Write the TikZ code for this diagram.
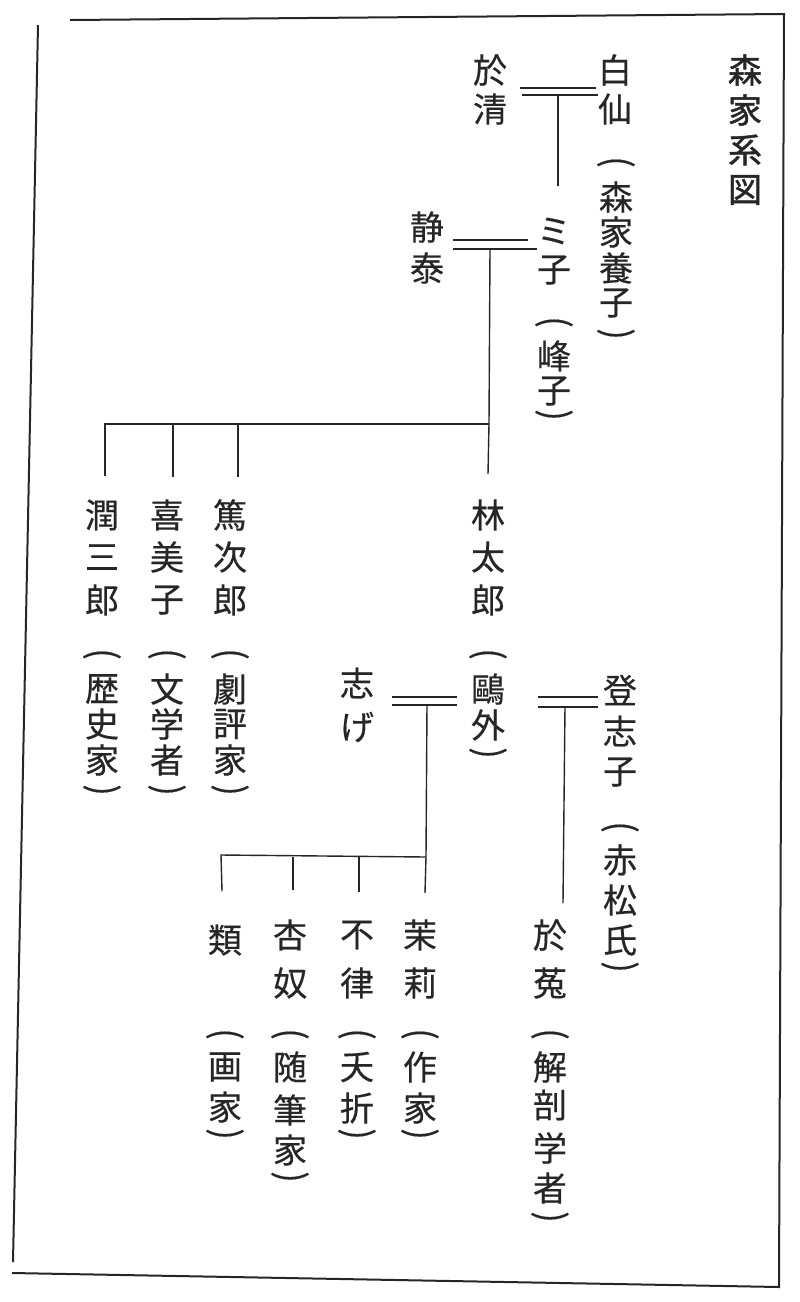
\documentclass[tikz,border=0pt]{standalone}
\usepackage{graphicx}
\usepackage{fontspec}
\setmainfont[FakeBold=0.4]{Noto Sans CJK JP}
\newfontfamily\titlefont[FakeBold=1.4]{Noto Sans CJK JP}
\definecolor{ink}{HTML}{262626}
\tikzset{
  ch/.style={inner sep=0pt, font=\fontsize{34pt}{34pt}\selectfont, text=ink},
  tch/.style={inner sep=0pt, font=\titlefont\fontsize{34pt}{34pt}\selectfont, text=ink},
  rule/.style={line width=1.4pt, draw=ink},
  frame/.style={line width=2pt, draw=ink},
}
\newcommand\vpo{\rotatebox[origin=c]{-90}{\scalebox{1}[1.12]{\fontsize{33pt}{33pt}\selectfont(}}}
\newcommand\vpc{\rotatebox[origin=c]{-90}{\scalebox{1}[1.12]{\fontsize{33pt}{33pt}\selectfont)}}}
\newcommand\vcol[4][ch]{\foreach \vy/\vch [count=\i] in {#4} {\node[#1] (#2-\i) at (#3,\vy) {\vch};}}
\begin{document}
\begin{tikzpicture}[x=1pt,y=-1pt]
\useasboundingbox (0,0) rectangle (800,1302);
\fill[white] (0,0) rectangle (800,1302);
% frame
\coordinate (fTL) at (70,20);
\coordinate (fTR) at (784,14);
\coordinate (fBR) at (779,1287);
\coordinate (fBL) at (12,1273);
\coordinate (fLT) at (38,25);
\coordinate (fLB) at (13,1262);
\draw[frame] (fTL) -- (fTR) -- (fBR) -- (fBL);
\draw[frame] (fLT) -- (fLB);
% title
\vcol[tch]{title}{745}{70/森,110/家,150/系,190/図}
% generation 1
\vcol{oki}{490}{70/於,109/清}
\vcol{hak}{615}{70/白,109/仙}
\vcol{hakb}{616}{165/\vpo,197/森,232/家,268/養,303/子,337/\vpc}
% generation 2
\vcol{sei}{427}{227/静,268/泰}
\vcol{mik}{554}{231/ミ,270/子}
\vcol{mikb}{554}{325/\vpo,356/峰,391/子,418/\vpc}
% generation 3
\vcol{jun}{102}{515/潤,557/三,600/郎}
\vcol{junb}{102}{657/\vpo,689/歴,724/史,760/家,793/\vpc}
\vcol{kim}{167}{515/喜,557/美,600/子}
\vcol{kimb}{167}{657/\vpo,689/文,724/学,760/者,793/\vpc}
\vcol{tok}{230}{515/篤,557/次,600/郎}
\vcol{tokb}{230}{657/\vpo,689/劇,724/評,760/家,793/\vpc}
\vcol{rin}{488}{515/林,557/太,600/郎}
\vcol{rinb}{488}{657/\vpo,689/鷗,725/外,756/\vpc}
\vcol{shi}{357}{683/志,727/げ}
\vcol{tos}{620}{690/登,731/志,772/子}
\vcol{tosb}{620}{830/\vpo,860/赤,900/松,940/氏,970/\vpc}
% generation 4
\vcol{rui}{225}{940/類}
\vcol{ruib}{225}{1037/\vpo,1067/画,1107/家,1137/\vpc}
\vcol{ann}{290}{935/杏,983/奴}
\vcol{annb}{290}{1037/\vpo,1067/随,1110/筆,1150/家,1180/\vpc}
\vcol{fur}{357}{935/不,983/律}
\vcol{furb}{357}{1037/\vpo,1067/夭,1108/折,1137/\vpc}
\vcol{mar}{420}{935/茉,983/莉}
\vcol{marb}{420}{1037/\vpo,1067/作,1108/家,1137/\vpc}
\vcol{oto}{550}{935/於,983/菟}
\vcol{otob}{550}{1037/\vpo,1067/解,1105/剖,1148/学,1188/者,1220/\vpc}
% marriage 1
\coordinate (m1a) at (520,88); \coordinate (m1b) at (596,88);
\coordinate (m1c) at (522,95); \coordinate (m1d) at (598,95);
\coordinate (v1t) at (558,95); \coordinate (v1b) at (558,186);
\draw[rule] (m1a) -- (m1b); \draw[rule] (m1c) -- (m1d);
\draw[rule] (v1t) -- (v1b);
% marriage 2
\coordinate (m2a) at (453,240); \coordinate (m2b) at (528,240);
\coordinate (m2c) at (453,249); \coordinate (m2d) at (537,249);
\coordinate (v2t) at (490,249); \coordinate (v2m) at (489,424); \coordinate (v2b) at (488,474);
\draw[rule] (m2a) -- (m2b); \draw[rule] (m2c) -- (m2d);
\draw[rule] (v2t) -- (v2m) -- (v2b);
\coordinate (h2l) at (105,424);
\coordinate (d2a) at (105,476);
\coordinate (h2b) at (173,424); \coordinate (d2b) at (173,477);
\coordinate (h2c) at (238,424); \coordinate (d2c) at (238,477);
\draw[rule] (d2a) -- (h2l) -- (v2m);
\draw[rule] (h2b) -- (d2b);
\draw[rule] (h2c) -- (d2c);
% marriage 3
\coordinate (m3a) at (392,697); \coordinate (m3b) at (457,697);
\coordinate (m3c) at (392,705); \coordinate (m3d) at (457,705);
\coordinate (v3t) at (427,705); \coordinate (v3m) at (426,857); \coordinate (v3b) at (425,893);
\draw[rule] (m3a) -- (m3b); \draw[rule] (m3c) -- (m3d);
\draw[rule] (v3t) -- (v3m) -- (v3b);
\coordinate (h3l) at (221,855); \coordinate (d3a) at (222,891);
\coordinate (h3b) at (293,857); \coordinate (d3b) at (293,890);
\coordinate (h3c) at (359,857); \coordinate (d3c) at (359,892);
\draw[rule] (d3a) -- (h3l) -- (v3m);
\draw[rule] (h3b) -- (d3b);
\draw[rule] (h3c) -- (d3c);
% marriage 4
\coordinate (m4a) at (538,697); \coordinate (m4b) at (598,697);
\coordinate (m4c) at (538,707); \coordinate (m4d) at (598,707);
\coordinate (v4t) at (565,707); \coordinate (v4b) at (563,903);
\draw[rule] (m4a) -- (m4b); \draw[rule] (m4c) -- (m4d);
\draw[rule] (v4t) -- (v4b);
\end{tikzpicture}
\end{document}
